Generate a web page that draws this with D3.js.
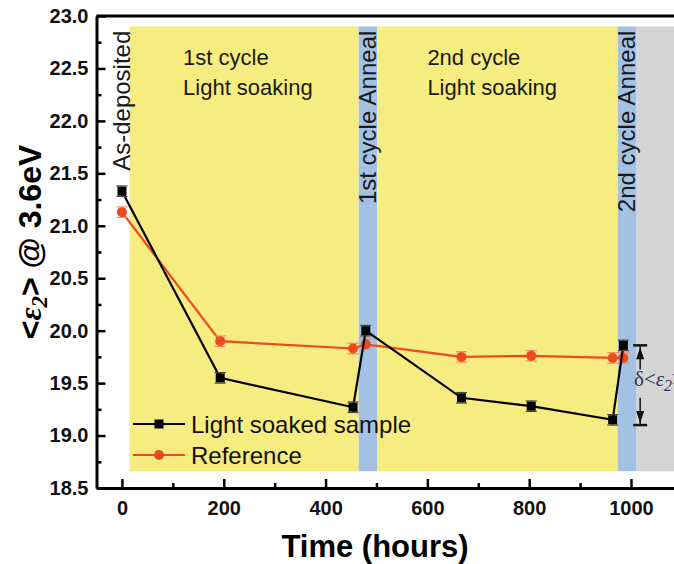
<!DOCTYPE html>
<html>
<head>
<meta charset="utf-8">
<script src="https://cdn.jsdelivr.net/npm/d3@7"></script>
<style>
  body { margin: 0; background: #fff; }
  text { font-family: "Liberation Sans", Arial, sans-serif; }
</style>
</head>
<body>
<svg id="chart"></svg>
<script>
// time (hours) of each measurement
const times = [0, 193, 454, 479, 667, 804, 964, 985]
const soaked = [21.33, 19.55, 19.27, 20.00, 19.36, 19.28, 19.15, 19.86]
const reference = [21.13, 19.90, 19.83, 19.87, 19.75, 19.76, 19.74, 19.74]
const soakedErr = [0.05, 0.05, 0.05, 0.05, 0.05, 0.05, 0.05, 0.05]
const referenceErr = [0.05, 0.05, 0.05, 0.05, 0.05, 0.05, 0.05, 0.05]

// shaded process stages: [start, end] in hours
const stageStart = [15, 465, 501, 974, 1011]
const stageEnd = [465, 501, 974, 1011, 1100]
const stageKind = ["soak", "anneal", "soak", "anneal", "after"]

const xMajor = [0, 200, 400, 600, 800, 1000]
const xMinor = [100, 300, 500, 700, 900]
const yMajor = [18.5, 19.0, 19.5, 20.0, 20.5, 21.0, 21.5, 22.0, 22.5, 23.0]
const yMinor = [18.75, 19.25, 19.75, 20.25, 20.75, 21.25, 21.75, 22.25, 22.75]

const width = 674
const height = 564

const stageColor = { soak: "#f6ec80", anneal: "#a3c1e3", after: "#d4d4d4" }

const svg = d3.select("#chart")
  .attr("width", width)
  .attr("height", height)
  .attr("viewBox", [0, 0, width, height])

const x = d3.scaleLinear().domain([-50, 1100]).range([96.5, 681.9])
const y = d3.scaleLinear().domain([18.5, 23]).range([488, 16])

// background stages
svg.append("g")
  .selectAll("rect")
  .data(stageStart)
  .join("rect")
  .attr("x", (d) => x(d))
  .attr("width", (d, i) => x(stageEnd[i]) - x(d))
  .attr("y", y(22.9))
  .attr("height", y(18.66) - y(22.9))
  .attr("fill", (d, i) => stageColor[stageKind[i]])

// stage labels
const rotLabels = [
  { t: 0, text: "As-deposited" },
  { t: 483, text: "1st cycle Anneal" },
  { t: 992, text: "2nd cycle Anneal" }
]
svg.append("g")
  .selectAll("text")
  .data(rotLabels)
  .join("text")
  .attr("transform", (d) => `translate(${x(d.t) + 8},${y(22.86)}) rotate(-90)`)
  .attr("text-anchor", "end")
  .attr("font-size", 24)
  .attr("fill", "#1a1a1a")
  .text((d) => d.text)

const cycleLabels = [
  { t: 120, lines: ["1st cycle", "Light soaking"] },
  { t: 600, lines: ["2nd cycle", "Light soaking"] }
]
cycleLabels.forEach((c) => {
  c.lines.forEach((line, i) => {
    svg.append("text")
      .attr("x", x(c.t))
      .attr("y", 65 + i * 30)
      .attr("font-size", 22)
      .attr("fill", "#1a1a1a")
      .text(line)
  })
})

// axes
const xAxis = svg.append("g")
  .attr("transform", `translate(0,${y(18.5)})`)
  .call(d3.axisBottom(x).tickValues(xMajor).tickSize(-9).tickSizeOuter(0).tickPadding(13).tickFormat(d3.format("d")))
xAxis.select(".domain").attr("stroke-width", 3)
xAxis.selectAll(".tick line").attr("stroke-width", 2.5)
xAxis.selectAll(".tick text")
  .attr("font-size", 20)
  .attr("font-weight", "bold")
  .attr("fill", "#111")
  .attr("font-family", "Liberation Sans, Arial, sans-serif")

svg.append("g")
  .attr("transform", `translate(0,${y(18.5)})`)
  .call(d3.axisBottom(x).tickValues(xMinor).tickSize(-5).tickFormat(""))
  .call((g) => g.select(".domain").remove())
  .selectAll(".tick line").attr("stroke-width", 2.5)

const yAxis = svg.append("g")
  .attr("transform", `translate(${x(-50)},0)`)
  .call(d3.axisLeft(y).tickValues(yMajor).tickSize(-9).tickSizeOuter(0).tickPadding(8).tickFormat(d3.format(".1f")))
yAxis.select(".domain").attr("stroke-width", 3)
yAxis.selectAll(".tick line").attr("stroke-width", 2.5)
yAxis.selectAll(".tick text")
  .attr("font-size", 20)
  .attr("font-weight", "bold")
  .attr("fill", "#111")
  .attr("font-family", "Liberation Sans, Arial, sans-serif")

svg.append("g")
  .attr("transform", `translate(${x(-50)},0)`)
  .call(d3.axisLeft(y).tickValues(yMinor).tickSize(-5).tickFormat(""))
  .call((g) => g.select(".domain").remove())
  .selectAll(".tick line").attr("stroke-width", 2.5)

// top frame line
svg.append("line")
  .attr("x1", x(-50)).attr("x2", x(1100))
  .attr("y1", y(23)).attr("y2", y(23))
  .attr("stroke", "#000").attr("stroke-width", 3)

// series
const line = d3.line().x((d) => x(d[0])).y((d) => y(d[1]))

const series = [
  { values: soaked, err: soakedErr, color: "#000", cap: "#444", shape: "square" },
  { values: reference, err: referenceErr, color: "#ee4a22", cap: "#f0906e", shape: "circle" }
]

series.slice().reverse().forEach((s) => {
  const pts = times.map((t, i) => [t, s.values[i], s.err[i]])
  const g = svg.append("g")
  g.append("path")
    .datum(pts)
    .attr("d", line)
    .attr("fill", "none")
    .attr("stroke", s.color)
    .attr("stroke-width", 2.2)

  const eb = g.selectAll(".eb").data(pts).join("g")
  eb.append("line")
    .attr("x1", (d) => x(d[0])).attr("x2", (d) => x(d[0]))
    .attr("y1", (d) => y(d[1] + d[2])).attr("y2", (d) => y(d[1] - d[2]))
    .attr("stroke", s.cap).attr("stroke-width", 1.2)
  ;[1, -1].forEach((sign) => {
    eb.append("line")
      .attr("x1", (d) => x(d[0]) - 5.5).attr("x2", (d) => x(d[0]) + 5.5)
      .attr("y1", (d) => y(d[1] + sign * d[2])).attr("y2", (d) => y(d[1] + sign * d[2]))
      .attr("stroke", s.cap).attr("stroke-width", 1.2)
  })

  if (s.shape === "square") {
    g.selectAll("rect").data(pts).join("rect")
      .attr("x", (d) => x(d[0]) - 4.5).attr("y", (d) => y(d[1]) - 4.5)
      .attr("width", 9).attr("height", 9)
      .attr("fill", s.color)
  } else {
    g.selectAll("circle").data(pts).join("circle")
      .attr("cx", (d) => x(d[0])).attr("cy", (d) => y(d[1]))
      .attr("r", 5)
      .attr("fill", s.color)
  }
})

// delta annotation
const annT = 1018
const annTop = 19.86
const annBot = 19.10
const ann = svg.append("g").attr("stroke", "#111").attr("fill", "#111")
const ax = x(annT)
ann.append("line").attr("x1", ax - 7).attr("x2", ax + 7)
  .attr("y1", y(annTop)).attr("y2", y(annTop)).attr("stroke-width", 2.5)
ann.append("line").attr("x1", ax).attr("x2", ax)
  .attr("y1", y(annTop)).attr("y2", y(19.63)).attr("stroke-width", 1.5)
ann.append("path")
  .attr("d", `M${ax},${y(annTop) + 2}L${ax - 4},${y(annTop) + 14}L${ax + 4},${y(annTop) + 14}Z`)
  .attr("stroke", "none")
ann.append("line").attr("x1", ax - 7).attr("x2", ax + 7)
  .attr("y1", y(annBot)).attr("y2", y(annBot)).attr("stroke-width", 2.5)
ann.append("line").attr("x1", ax).attr("x2", ax)
  .attr("y1", y(annBot)).attr("y2", y(19.36)).attr("stroke-width", 1.5)
ann.append("path")
  .attr("d", `M${ax},${y(annBot) - 2}L${ax - 4},${y(annBot) - 14}L${ax + 4},${y(annBot) - 14}Z`)
  .attr("stroke", "none")

const dText = svg.append("text")
  .attr("x", x(1006))
  .attr("y", y(19.47))
  .attr("font-size", 21)
  .attr("fill", "#2c3a58")
  .style("font-family", "'Liberation Serif', 'DejaVu Serif', serif")
dText.append("tspan").text("δ<")
dText.append("tspan").attr("font-style", "italic").text("ε")
dText.append("tspan").attr("font-style", "italic").attr("font-size", 16).attr("dy", 5).text("2")
dText.append("tspan").attr("dy", -5).text(">")

// legend
const legend = [
  { label: "Light soaked sample", color: "#000", shape: "square" },
  { label: "Reference", color: "#ee4a22", shape: "circle" }
]
const lg = svg.append("g")
legend.forEach((d, i) => {
  const ly = 424 + i * 31
  lg.append("line").attr("x1", 133).attr("x2", 185).attr("y1", ly).attr("y2", ly)
    .attr("stroke", d.color).attr("stroke-width", 2.2)
  if (d.shape === "square") {
    lg.append("rect").attr("x", 159 - 4.5).attr("y", ly - 4.5).attr("width", 9).attr("height", 9).attr("fill", d.color)
  } else {
    lg.append("circle").attr("cx", 159).attr("cy", ly).attr("r", 5).attr("fill", d.color)
  }
  lg.append("text").attr("x", 191).attr("y", ly + 8.5)
    .attr("font-size", 24).attr("fill", "#111").text(d.label)
})

// axis titles
svg.append("text")
  .attr("x", 375)
  .attr("y", 557)
  .attr("text-anchor", "middle")
  .attr("font-size", 31)
  .attr("font-weight", "bold")
  .text("Time (hours)")

const yTitle = svg.append("text")
  .attr("transform", "translate(41,242) rotate(-90)")
  .attr("text-anchor", "middle")
  .attr("font-size", 32)
  .attr("font-weight", "bold")
yTitle.append("tspan").text("<")
yTitle.append("tspan")
  .attr("font-style", "italic")
  .style("font-family", "'Liberation Serif', serif")
  .text("ε")
yTitle.append("tspan")
  .attr("font-style", "italic").attr("font-size", 23).attr("dy", 6)
  .style("font-family", "'Liberation Serif', serif")
  .text("2")
yTitle.append("tspan").attr("dy", -6).text("> @ 3.6eV")
</script>
</body>
</html>
